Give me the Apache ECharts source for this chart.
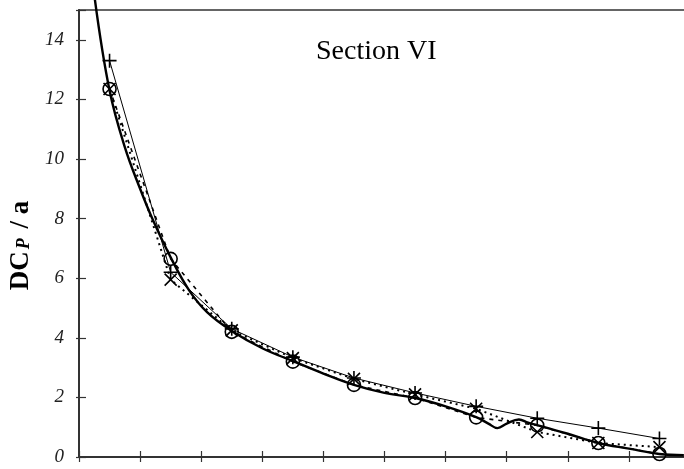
<!DOCTYPE html>
<html>
<head>
<meta charset="utf-8">
<script src="https://cdn.jsdelivr.net/npm/echarts@6/dist/echarts.min.js"></script>
<style>
  html, body { margin: 0; padding: 0; background: #fff; }
  #chart { width: 684px; height: 469px; }
</style>
</head>
<body>
<div id="chart"></div>
<script>
// x positions of the measured points (centre of each interval)
const xPos = [0.5, 1.5, 2.5, 3.5, 4.5, 5.5, 6.5, 7.5, 8.5, 9.5]
const plusVals = [13.3, 6.2, 4.3, 3.35, 2.65, 2.15, 1.7, 1.3, 0.97, 0.62]
const crossVals = [12.35, 5.95, 4.25, 3.32, 2.62, 2.1, 1.62, 0.84, 0.47, 0.33]
const circleVals = [12.35, 6.65, 4.2, 3.2, 2.42, 1.98, 1.33, 1.06, 0.47, 0.1]
// thick curve
const curveX = [0.26, 0.5, 0.75, 1.0, 1.21, 1.5, 1.8, 2.1, 2.5, 3.0, 3.5, 4.0, 4.5, 5.0, 5.5, 6.0, 6.5, 6.7, 6.85, 7.0, 7.2, 7.35, 7.5, 8.0, 8.5, 9.0, 9.5, 9.9]
const curveY = [15.35, 12.3, 10.4, 9.0, 7.95, 6.7, 5.6, 4.85, 4.23, 3.65, 3.22, 2.8, 2.42, 2.15, 1.98, 1.7, 1.34, 1.12, 0.97, 1.12, 1.26, 1.15, 1.07, 0.78, 0.47, 0.28, 0.1, 0.06]
const yTicks = [0, 2, 4, 6, 8, 10, 12, 14]

const pts = (ys) => xPos.map((x, i) => [x, ys[i]])
const plusPath = 'path://M5,0 L5,10 M0,5 L10,5'
const crossPath = 'path://M0,0 L10,10 M10,0 L0,10'
const font = 'Liberation Serif'

let myChart = echarts.init(document.getElementById('chart'))
myChart.setOption({
  backgroundColor: '#fff',
  animation: false,
  title: {
    text: 'Section VI',
    left: 311,
    top: 33,
    textStyle: { fontFamily: font, fontSize: 28, fontWeight: 'normal', color: '#000' }
  },
  grid: {
    left: 79, top: 10, right: -6, bottom: 12,
    outerBoundsMode: 'none', containLabel: false,
    show: true, borderColor: '#333', borderWidth: 1.5
  },
  xAxis: [
    {
      type: 'value', min: 0, max: 10, interval: 1,
      axisLine: { lineStyle: { color: '#333', width: 2 } },
      axisTick: { inside: true, length: 6, lineStyle: { color: '#333', width: 1.2 } },
      axisLabel: { show: false },
      splitLine: { show: false }
    },
    {
      type: 'value', min: 0, max: 10, interval: 1, position: 'bottom',
      axisLine: { show: false },
      axisTick: { length: 5, lineStyle: { color: '#333', width: 1.2 } },
      axisLabel: { show: false },
      splitLine: { show: false }
    }
  ],
  yAxis: [
    {
      type: 'value', min: 0, max: 15, interval: 2,
      name: '{b|DC}{p|P}{b| / a}',
      nameLocation: 'middle',
      nameGap: 42,
      nameTextStyle: {
        padding: [0, 24, 0, 0],
        rich: {
          b: { fontFamily: font, fontWeight: 'bold', fontSize: 27, color: '#000' },
          p: { fontFamily: font, fontStyle: 'italic', fontWeight: 'bold', fontSize: 18, color: '#000', padding: [8, 3, 0, 2] }
        }
      },
      axisLine: { show: true, lineStyle: { color: '#333', width: 2 } },
      axisTick: { inside: true, length: 7, lineStyle: { color: '#333', width: 1.2 } },
      axisLabel: {
        margin: 15,
        fontFamily: font, fontStyle: 'italic', fontSize: 19, color: '#222',
        formatter: (v) => (yTicks.indexOf(v) >= 0 ? String(v) : '')
      },
      splitLine: { show: false }
    },
    {
      type: 'value', min: 0, max: 15, interval: 2, position: 'left',
      axisLine: { show: false },
      axisTick: { length: 3, lineStyle: { color: '#333', width: 1.2 } },
      axisLabel: { show: false },
      splitLine: { show: false }
    }
  ],
  series: [
    {
      name: 'curve', type: 'line', smooth: 0.4, clip: false,
      data: curveX.map((x, i) => [x, curveY[i]]),
      showSymbol: false,
      lineStyle: { color: '#000', width: 2.4 }
    },
    {
      name: 'plus', type: 'line', data: pts(plusVals),
      symbol: plusPath, symbolSize: 14,
      itemStyle: { color: 'none', borderColor: '#000', borderWidth: 1.6 },
      lineStyle: { color: '#000', width: 1 }
    },
    {
      name: 'cross', type: 'line', data: pts(crossVals),
      symbol: crossPath, symbolSize: 12,
      itemStyle: { color: 'none', borderColor: '#000', borderWidth: 1.6 },
      lineStyle: { color: '#000', width: 2, type: [2, 4] }
    },
    {
      name: 'circle', type: 'line', data: pts(circleVals),
      symbol: 'circle', symbolSize: 13,
      itemStyle: { color: 'rgba(0,0,0,0)', borderColor: '#000', borderWidth: 1.6 },
      lineStyle: { color: '#000', width: 1.6, type: [4, 5] }
    }
  ]
})
</script>
</body>
</html>
